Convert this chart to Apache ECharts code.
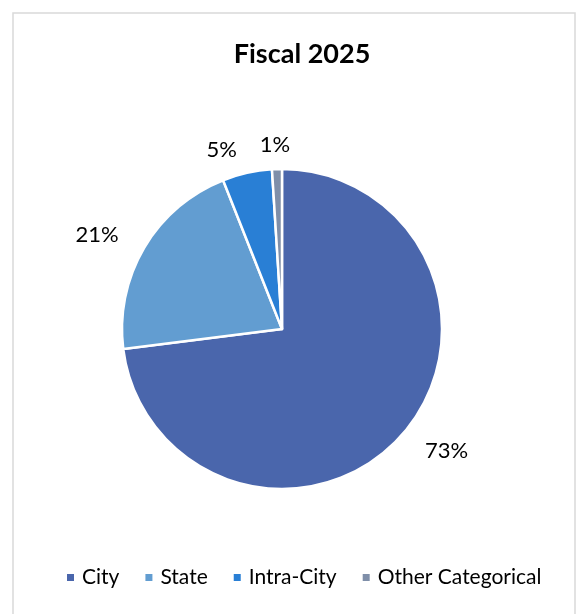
<!DOCTYPE html>
<html>
<head>
<meta charset="utf-8">
<script src="https://cdn.jsdelivr.net/npm/echarts@6/dist/echarts.min.js"></script>
<style>
html,body{margin:0;padding:0;background:#fff;}
#main{width:580px;height:614px;}
</style>
</head>
<body>
<div id="main"></div>
<script>
const titleText = 'Fiscal 2025';
const categories = ['City', 'State', 'Intra-City', 'Other Categorical'];
const values = [73, 21, 5, 1];
const colors = ['#4A66AC', '#629DD1', '#297FD5', '#7F8FA9'];

const chart = echarts.init(document.getElementById('main'), null, {renderer: 'canvas'});
const font = 'Lato, "Open Sans", sans-serif';
chart.setOption({
  animation: false,
  color: colors,
  title: {
    text: titleText,
    left: 297, top: 36, textAlign: 'center',
    textStyle: {fontFamily: font, fontSize: 27, fontWeight: 'bold', color: '#000'}
  },
  graphic: [{
    type: 'rect', shape: {x: 13, y: 13, width: 562, height: 610},
    style: {fill: 'none', stroke: '#d9d9d9', lineWidth: 1.5}, silent: true
  }],
  legend: {
    bottom: 21, left: 60,
    icon: 'rect', itemWidth: 9, itemHeight: 9, itemGap: 24,
    textStyle: {fontFamily: font, fontSize: 21, color: '#000', padding: [0, 0, 0, 2]},
    data: categories
  },
  series: [{
    type: 'pie',
    center: [282, 329],
    radius: [0, 160],
    startAngle: 90,
    clockwise: true,
    avoidLabelOverlap: false,
    itemStyle: {borderColor: '#fff', borderWidth: 2.5},
    label: {
      show: true, position: 'outside',
      formatter: p => p.value + '%',
      fontFamily: font, fontSize: 22, color: '#000'
    },
    labelLine: {show: false, length: 24, length2: 0},
    labelLayout: function (p) { if (p.dataIndex === 3) return {dx: 19}; },
    data: categories.map((c, i) => ({name: c, value: values[i]}))
  }]
});
</script>
</body>
</html>
